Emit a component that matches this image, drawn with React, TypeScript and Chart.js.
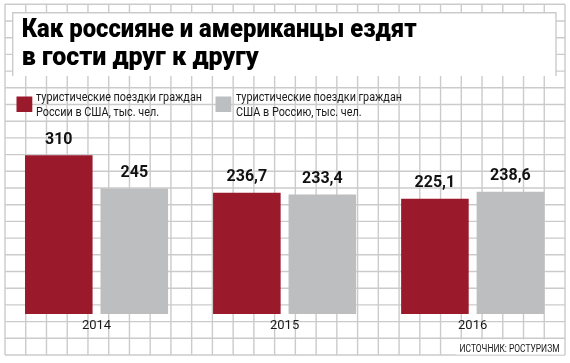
import React, { useEffect, useRef } from "react";
import { Chart, registerables } from "chart.js";

Chart.register(...registerables);

const categories = ["2014", "2015", "2016"];
const russiansToUS = [310, 236.7, 225.1];
const americansToRussia = [245, 233.4, 238.6];
const seriesNames = [
  ["туристические поездки граждан", "России в США, тыс. чел."],
  ["туристические поездки граждан", "США в Россию, тыс. чел."],
];
const titleLines = ["Как россияне и американцы ездят", "в гости друг к другу"];
const sourceText = "ИСТОЧНИК: РОСТУРИЗМ";

const RED = "#9a1a2c";
const GRAY = "#bdbec0";
const GRID = "#cbcbcb";

function fitText(
  ctx: CanvasRenderingContext2D,
  text: string,
  x: number,
  y: number,
  width: number,
  align: "left" | "right" | "center" = "left"
) {
  const w = ctx.measureText(text).width;
  const s = width / w;
  ctx.save();
  ctx.translate(x, y);
  ctx.scale(s, 1);
  ctx.textAlign = "left";
  ctx.textBaseline = "alphabetic";
  const dx = align === "right" ? -w : align === "center" ? -w / 2 : 0;
  ctx.fillText(text, dx, 0);
  ctx.restore();
}

const backgroundPlugin = {
  id: "paper",
  beforeDraw(chart: any) {
    const ctx: CanvasRenderingContext2D = chart.ctx;
    ctx.save();
    ctx.fillStyle = "#ffffff";
    ctx.fillRect(0, 0, chart.width, chart.height);
    // graph paper
    const x0 = 5, x1 = 565, y0 = 4.3, y1 = 355;
    const cols = 27, rows = 21;
    ctx.strokeStyle = GRID;
    ctx.lineWidth = 1.4;
    ctx.beginPath();
    for (let i = 0; i <= cols; i++) {
      const x = x0 + ((x1 - x0) * i) / cols;
      ctx.moveTo(x, y0);
      ctx.lineTo(x, y1);
    }
    for (let j = 0; j <= rows; j++) {
      const y = y0 + ((y1 - y0) * j) / rows;
      ctx.moveTo(x0, y);
      ctx.lineTo(x1, y);
    }
    ctx.stroke();

    // title box
    ctx.fillStyle = "#ffffff";
    ctx.fillRect(12.7, 12.7, 556 - 12.7, 76 - 12.7);
    ctx.beginPath();
    ctx.moveTo(12.7, 76);
    ctx.lineTo(12.7, 12.7);
    ctx.lineTo(556, 12.7);
    ctx.lineTo(556, 76);
    ctx.stroke();

    // title
    ctx.fillStyle = "#000000";
    ctx.font = "900 25px Roboto";
    fitText(ctx, titleLines[0], 21.7, 37.3, 395);
    fitText(ctx, titleLines[1], 21.7, 64.5, 237);

    // legend
    const legendItems = [
      { color: RED, sx: 16.5, tx: 36 },
      { color: GRAY, sx: 215.5, tx: 236 },
    ];
    legendItems.forEach((it, i) => {
      ctx.fillStyle = it.color;
      ctx.fillRect(it.sx, 96.5, 15.8, 15.5);
      ctx.fillStyle = "#1a1a1a";
      ctx.font = "13px Roboto";
      fitText(ctx, seriesNames[i][0], it.tx, 100.7, 166);
      const w2 = ctx.measureText(seriesNames[i][1]).width;
      const s1 = 166 / ctx.measureText(seriesNames[i][0]).width;
      fitText(ctx, seriesNames[i][1], it.tx, 115.5, w2 * s1);
    });
    ctx.restore();
  },
  afterDatasetsDraw(chart: any) {
    const ctx: CanvasRenderingContext2D = chart.ctx;
    ctx.save();
    ctx.fillStyle = "#111111";
    ctx.font = "bold 16px Roboto";
    ctx.textAlign = "center";
    ctx.textBaseline = "alphabetic";
    chart.data.datasets.forEach((ds: any, di: number) => {
      const meta = chart.getDatasetMeta(di);
      meta.data.forEach((bar: any, i: number) => {
        const v = ds.data[i];
        const txt = String(v).replace(".", ",");
        ctx.fillText(txt, bar.x, bar.y - 11.5);
      });
    });
    ctx.restore();
  },
  afterDraw(chart: any) {
    const ctx: CanvasRenderingContext2D = chart.ctx;
    ctx.save();
    ctx.fillStyle = "#ffffff";
    ctx.fillRect(456, 339.5, 108, 15);
    ctx.fillStyle = "#1a1a1a";
    ctx.font = "11px Roboto";
    fitText(ctx, sourceText, 559.5, 351.8, 100, "right");
    ctx.restore();
  },
};

export default function App() {
  const ref = useRef<HTMLCanvasElement | null>(null);
  useEffect(() => {
    if (!ref.current) return;
    const chart = new Chart(ref.current, {
      type: "bar",
      data: {
        labels: categories,
        datasets: [
          {
            label: seriesNames[0].join(" "),
            data: russiansToUS,
            backgroundColor: RED,
            borderWidth: 0,
            categoryPercentage: 0.803,
            barPercentage: 0.895,
          },
          {
            label: seriesNames[1].join(" "),
            data: americansToRussia,
            backgroundColor: GRAY,
            borderWidth: 0,
            categoryPercentage: 0.803,
            barPercentage: 0.895,
          },
        ],
      },
      options: {
        responsive: false,
        animation: false,
        events: [],
        layout: { padding: { left: 2.5, right: 3.3, top: 109, bottom: 0 } },
        plugins: {
          legend: { display: false },
          tooltip: { enabled: false },
          title: { display: false },
        },
        scales: {
          x: {
            grid: { display: false, drawTicks: false },
            border: { display: false },
            ticks: {
              color: "#1a1a1a",
              font: { family: "Roboto", size: 13 },
              padding: 4,
              maxRotation: 0,
            },
            afterFit: (scale: any) => {
              scale.height = 49;
            },
          },
          y: {
            display: false,
            min: 0,
            max: 400,
          },
        },
      },
      plugins: [backgroundPlugin],
    });
    return () => chart.destroy();
  }, []);
  return (
    <div style={{ position: "fixed", left: 0, top: 0, width: 570, height: 363, background: "#fff" }}>
      <canvas ref={ref} width={570} height={363} style={{ display: "block", width: 570, height: 363 }} />
    </div>
  );
}
